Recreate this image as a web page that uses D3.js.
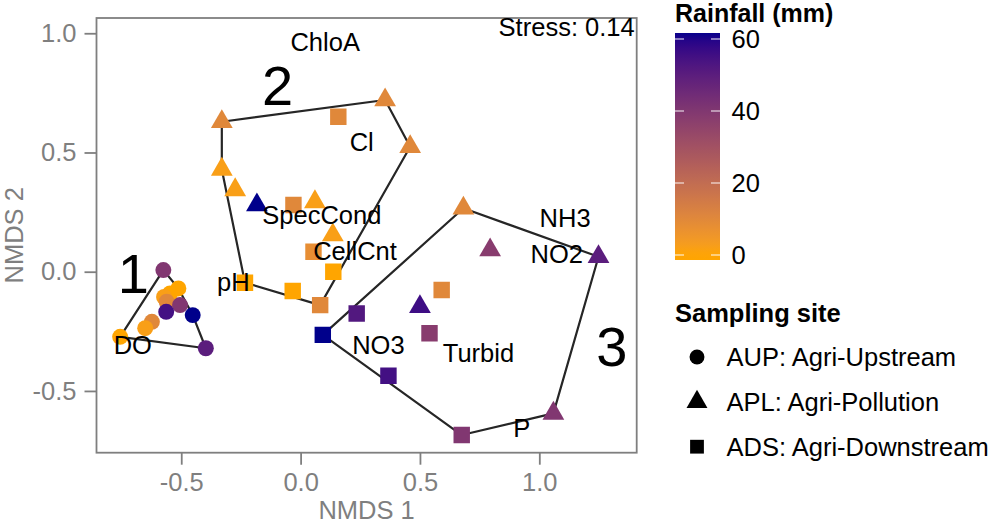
<!DOCTYPE html>
<html>
<head>
<meta charset="utf-8">
<script src="https://cdn.jsdelivr.net/npm/d3@7"></script>
<style>
  html, body { margin: 0; padding: 0; background: #fff; }
  svg { display: block; font-family: "Liberation Sans", Arial, sans-serif; }
</style>
</head>
<body>
<svg id="chart" width="1000" height="524"></svg>
<script>
// ---------- data ----------
const siteCodes  = ["AUP", "APL", "ADS"];
const siteLabels = ["AUP: Agri-Upstream", "APL: Agri-Pollution", "ADS: Agri-Downstream"];

// samples: NMDS1, NMDS2, rainfall (mm), site, cluster
const ptX = [
  -0.575, -0.512, -0.547, -0.572, -0.561, -0.505, -0.563, -0.452, -0.623, -0.651, -0.756, -0.397,
  -0.330, 0.354, 0.459, -0.330, -0.274, -0.183, 0.060, 0.135,
  0.158, -0.030, 0.054, 0.137, -0.233, -0.033, 0.082,
  0.682, 0.794, 1.248, 0.500, 1.059,
  0.591, 0.235, 0.093, 0.540, 0.368, 0.675
];
const ptY = [
  0.007, -0.070, -0.091, -0.106, -0.126, -0.140, -0.168, -0.182, -0.210, -0.237, -0.273, -0.321,
  0.629, 0.720, 0.524, 0.429, 0.343, 0.280, 0.293, 0.154,
  0.650, 0.280, 0.084, 0.000, -0.046, -0.081, -0.140,
  0.266, 0.091, 0.063, -0.147, -0.594,
  -0.077, -0.175, -0.265, -0.258, -0.436, -0.685
];
const ptRain = [
  40, 0, 0, 2, 10, 40, 55, 62, 10, 2, 0, 50,
  10, 10, 10, 2, 2, 62, 2, 2,
  10, 10, 8, 0, 0, 0, 10,
  10, 38, 50, 56, 40,
  10, 52, 62, 38, 55, 40
];
const ptSite = [
  "AUP","AUP","AUP","AUP","AUP","AUP","AUP","AUP","AUP","AUP","AUP","AUP",
  "APL","APL","APL","APL","APL","APL","APL","APL",
  "ADS","ADS","ADS","ADS","ADS","ADS","ADS",
  "APL","APL","APL","APL","APL",
  "ADS","ADS","ADS","ADS","ADS","ADS"
];
const ptGroup = [
  1,1,1,1,1,1,1,1,1,1,1,1,
  2,2,2,2,2,2,2,2,
  2,2,2,2,2,2,2,
  3,3,3,3,3,
  3,3,3,3,3,3
];

// environmental variable labels (NMDS coordinates)
const envNames = ["ChloA", "Cl", "SpecCond", "CellCnt", "pH", "DO", "NH3", "NO2", "NO3", "Turbid", "P"];
const envX = [0.103, 0.256, 0.089, 0.228, -0.282, -0.703, 1.108, 1.073, 0.326, 0.745, 0.927];
const envY = [0.963, 0.545, 0.238, 0.088, -0.042, -0.308, 0.224, 0.074, -0.307, -0.342, -0.657];

// cluster numbers
const clusterNames = ["1", "2", "3"];
const clusterX = [-0.701, -0.096, 1.304];
const clusterY = [-0.005, 0.783, -0.312];

const xTicks = [-0.5, 0.0, 0.5, 1.0];
const yTicks = [-0.5, 0.0, 0.5, 1.0];
const rainTicks = [0, 20, 40, 60];
const stressText = "Stress: 0.14";

// ---------- layout ----------
const svg = d3.select("#chart");
const FONT = "'Liberation Sans', Arial, sans-serif";
const grey = "#7f7f7f";

const x = d3.scaleLinear().domain([-0.855, 1.408]).range([96.5, 636.7]);
const y = d3.scaleLinear().domain([-0.759, 1.064]).range([452.7, 18]);

const color = d3.scaleLinear().domain([0, 62])
  .range(["#FFA500", "#00008B"]).interpolate(d3.interpolateLab).clamp(true);

// panel
svg.append("rect")
  .attr("x", x.range()[0]).attr("y", y.range()[1])
  .attr("width", x.range()[1] - x.range()[0])
  .attr("height", y.range()[0] - y.range()[1])
  .attr("fill", "#fff").attr("stroke", grey).attr("stroke-width", 1.8);

// axes
const xAxis = d3.axisBottom(x).tickValues(xTicks).tickFormat(d3.format(".1f")).tickSize(12).tickPadding(8);
const gx = svg.append("g").attr("transform", `translate(0,${y.range()[0]})`).call(xAxis);
const yAxis = d3.axisLeft(y).tickValues(yTicks).tickFormat(d3.format(".1f")).tickSize(12).tickPadding(8);
const gy = svg.append("g").attr("transform", `translate(${x.range()[0]},0)`).call(yAxis);
[gx, gy].forEach(g => {
  g.select(".domain").remove();
  g.selectAll(".tick line").attr("stroke", grey).attr("stroke-width", 1.8);
  g.selectAll(".tick text").attr("fill", grey).style("font-family", FONT).style("font-size", "25.5px")
    .text(d => d3.format(".1f")(d).replace("−", "-"));
});
gx.selectAll(".tick text").attr("dy", "0.71em");

svg.append("text").attr("x", (x.range()[0] + x.range()[1]) / 2).attr("y", 519)
  .attr("text-anchor", "middle").attr("fill", grey)
  .style("font-size", "25.5px").text("NMDS 1");
svg.append("text")
  .attr("transform", `translate(23,${(y.range()[0] + y.range()[1]) / 2}) rotate(-90)`)
  .attr("text-anchor", "middle").attr("fill", grey)
  .style("font-size", "25.5px").text("NMDS 2");

// clip
svg.append("clipPath").attr("id", "clip").append("rect")
  .attr("x", x.range()[0]).attr("y", y.range()[1])
  .attr("width", x.range()[1] - x.range()[0])
  .attr("height", y.range()[0] - y.range()[1]);
const plot = svg.append("g").attr("clip-path", "url(#clip)");

// points table
const pts = ptX.map((v, i) => ({ x: v, y: ptY[i], rain: ptRain[i], site: ptSite[i], group: ptGroup[i] }));

// hulls
const groups = d3.groups(pts, d => d.group);
groups.forEach(([g, arr]) => {
  const hull = d3.polygonHull(arr.map(d => [x(d.x), y(d.y)]));
  plot.append("path")
    .attr("d", "M" + hull.join("L") + "Z")
    .attr("fill", "none").attr("stroke", "#262626").attr("stroke-width", 2.2)
    .attr("stroke-linejoin", "round");
});

// symbols
const symType = { AUP: d3.symbolCircle, APL: d3.symbolTriangle, ADS: d3.symbolSquare };
const symSize = { AUP: 200, APL: 205, ADS: 270 };
const legSize = { AUP: 175, APL: 190, ADS: 190 };
const sym = (s, sz) => d3.symbol().type(symType[s]).size(sz[s])();

plot.selectAll(".pt").data(pts).join("path")
  .attr("class", "pt")
  .attr("transform", d => `translate(${x(d.x)},${y(d.y)})`)
  .attr("d", d => sym(d.site, symSize))
  .attr("fill", d => color(d.rain));

// env labels
plot.selectAll(".env").data(envNames).join("text")
  .attr("class", "env")
  .attr("x", (d, i) => x(envX[i])).attr("y", (d, i) => y(envY[i]))
  .attr("dy", "0.35em").attr("text-anchor", "middle")
  .attr("fill", "#000").style("font-size", "25.5px").text(d => d);

// cluster numbers
plot.selectAll(".cl").data(clusterNames).join("text")
  .attr("class", "cl")
  .attr("x", (d, i) => x(clusterX[i])).attr("y", (d, i) => y(clusterY[i]))
  .attr("dy", "0.36em").attr("text-anchor", "middle")
  .attr("fill", "#000").style("font-size", "56px").text(d => d);

// stress
svg.append("text").attr("x", x.range()[1] - 2).attr("y", 36)
  .attr("text-anchor", "end").attr("fill", "#000")
  .style("font-size", "25.5px").text(stressText);

// ---------- colour legend ----------
const lx = 675, lw = 45;
const ly = d3.scaleLinear().domain([0, 60]).range([255, 39]);
const barTop = 33, barBottom = 260;

svg.append("text").attr("x", lx).attr("y", 22)
  .attr("font-weight", "bold").attr("fill", "#000")
  .style("font-size", "25px").text("Rainfall (mm)");

const defs = svg.append("defs");
const grad = defs.append("linearGradient").attr("id", "rainGrad")
  .attr("x1", 0).attr("y1", 1).attr("x2", 0).attr("y2", 0);
const nStops = 30;
d3.range(nStops + 1).forEach(k => {
  const v = ly.invert(barBottom + (barTop - barBottom) * k / nStops);
  grad.append("stop").attr("offset", k / nStops).attr("stop-color", color(v));
});
svg.append("rect").attr("x", lx).attr("y", barTop).attr("width", lw)
  .attr("height", barBottom - barTop).attr("fill", "url(#rainGrad)");

rainTicks.forEach(t => {
  svg.append("line").attr("x1", lx).attr("x2", lx + 9).attr("y1", ly(t)).attr("y2", ly(t))
    .attr("stroke", "#fff").attr("stroke-width", 1.2).attr("opacity", 0.8);
  svg.append("line").attr("x1", lx + lw - 9).attr("x2", lx + lw).attr("y1", ly(t)).attr("y2", ly(t))
    .attr("stroke", "#fff").attr("stroke-width", 1.2).attr("opacity", 0.8);
  svg.append("text").attr("x", 731.5).attr("y", ly(t)).attr("dy", "0.36em")
    .attr("fill", "#000").style("font-size", "25.5px").text(t);
});

// ---------- shape legend ----------
svg.append("text").attr("x", lx).attr("y", 322)
  .attr("font-weight", "bold").attr("fill", "#000")
  .style("font-size", "25.5px").text("Sampling site");

const legY = d3.scalePoint().domain(siteCodes).range([357, 446.7]);
siteCodes.forEach((s, i) => {
  svg.append("path").attr("transform", `translate(697,${legY(s)})`)
    .attr("d", sym(s, legSize)).attr("fill", "#000");
  svg.append("text").attr("x", 726.5).attr("y", legY(s)).attr("dy", "0.36em")
    .attr("fill", "#000").style("font-size", "25.5px").text(siteLabels[i]);
});
</script>
</body>
</html>
